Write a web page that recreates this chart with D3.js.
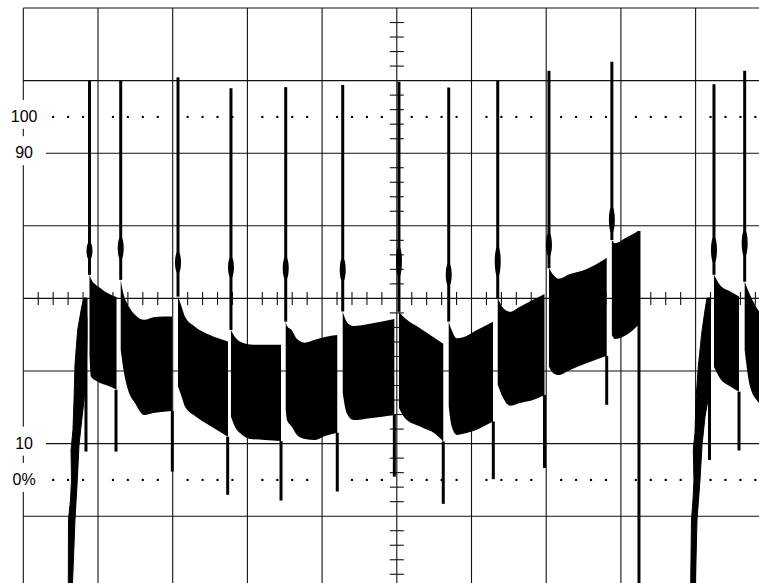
<!DOCTYPE html>
<html>
<head>
<meta charset="utf-8">
<script src="https://cdn.jsdelivr.net/npm/d3@7"></script>
<style>
body { margin: 0; background: #fff; }
svg { display: block; }
</style>
</head>
<body>
<div id="chart-area"></div>
<script>
var width = 759;
var height = 583;

// horizontal: screen divisions, vertical: percent of full level
var gridT = d3.range(0, 11);
var gridLevel = [130, 110, 90, 70, 50, 30, 10, -10, -30];
var refLevel = [100, 0];
var labelLevel = [100, 90, 10, 0];
var labelText = ["100", "90", "10", "0%"];

// rising edges at the start of each burst
var riseT = [
    [0.602, 0.605, 0.632, 0.645, 0.639, 0.665, 0.679, 0.692, 0.728, 0.782, 0.813, 0.853, 0.853, 0.839, 0.813, 0.768, 0.746, 0.723, 0.692, 0.652],
    [8.932, 8.945, 8.965, 8.978, 8.969, 8.992, 9.005, 9.036, 9.082, 9.126, 9.153, 9.200, 9.200, 9.179, 9.165, 9.126, 9.086, 9.059, 9.019, 8.992]
];
var riseLevel = [
    [-32, -11.0, -5.5, 0, 8.3, 13.8, 22.0, 31.7, 41.3, 47.7, 50.1, 50.1, 38.6, 27.5, 22.0, 13.8, 9.6, 0, -11.0, -32],
    [-32, -11.0, -5.5, 0, 8.3, 12.9, 22.0, 31.2, 40.4, 46.8, 50.1, 50.1, 38.6, 27.5, 22.0, 17.4, 9.6, 0, -11.0, -32]
];

// envelope of the ripple between switching spikes
var bandT = [
    [0.886, 0.906, 0.973, 1.027, 1.094, 1.174, 1.248],
    [1.304, 1.348, 1.402, 1.495, 1.616, 1.763, 1.991],
    [2.071, 2.124, 2.164, 2.298, 2.499, 2.740],
    [2.780, 2.834, 2.901, 3.035, 3.235, 3.450],
    [3.513, 3.530, 3.593, 3.664, 3.771, 3.905, 4.039, 4.203],
    [4.276, 4.329, 4.418, 4.641, 4.967],
    [5.029, 5.110, 5.311, 5.512, 5.622],
    [5.695, 5.735, 5.802, 5.890, 6.070, 6.158, 6.288],
    [6.351, 6.422, 6.515, 6.649, 6.823, 6.977],
    [7.037, 7.095, 7.162, 7.319, 7.520, 7.810],
    [7.879, 7.921, 8.055, 8.233],
    [9.246, 9.326, 9.465, 9.581],
    [9.657, 9.728, 9.849, 10.06]
];
var bandTop = [
    [56.5, 55.4, 53.7, 52.9, 51.8, 51.0, 50.4],
    [55.1, 50.7, 48.2, 45.5, 44.1, 44.9, 45.0],
    [50.5, 47.4, 45.0, 42.2, 39.9, 38.1],
    [41.3, 39.4, 38.1, 37.3, 37.2, 37.2],
    [43.6, 42.4, 41.3, 38.8, 37.8, 38.6, 39.4, 39.9],
    [46.4, 43.6, 42.4, 43.0, 44.3],
    [46.3, 44.5, 41.8, 39.0, 37.5],
    [43.6, 41.3, 39.0, 39.3, 41.3, 42.2, 43.6],
    [50.1, 47.4, 46.3, 47.7, 49.6, 51.2],
    [58.3, 56.5, 55.4, 56.7, 57.9, 61.1],
    [66.1, 65.2, 66.6, 68.6],
    [56.5, 53.7, 51.9, 50.5],
    [54.6, 51.0, 46.4, 41.3]
];
var bandBottom = [
    [34.4, 28.4, 27.3, 26.7, 26.2, 25.6, 24.8],
    [35.8, 29.5, 24.8, 21.2, 17.9, 18.5, 19.0],
    [25.7, 22.6, 20.2, 17.6, 14.9, 11.9],
    [17.4, 14.6, 12.9, 11.3, 11.0, 10.7],
    [19.3, 16.5, 14.7, 12.4, 11.3, 11.0, 12.1, 13.0],
    [24.0, 18.4, 16.5, 17.0, 17.9],
    [19.8, 17.0, 14.7, 12.7, 10.6],
    [20.2, 14.7, 12.4, 12.7, 13.8, 14.7, 16.1],
    [26.2, 22.6, 20.4, 21.2, 22.0, 23.4],
    [31.2, 29.4, 28.9, 30.3, 32.0, 34.2],
    [39.9, 38.8, 39.7, 42.7],
    [31.2, 28.0, 25.7, 24.3],
    [35.8, 25.7, 21.1, 16.5]
];

// upward spikes (one per band) and their blobs
var spikeT = [0.886, 1.304, 2.071, 2.780, 3.513, 4.276, 5.029, 5.695, 6.351, 7.037, 7.879, 9.246, 9.657];
var spikeTop = [109.9, 109.9, 110.9, 107.9, 108.2, 108.8, 109.7, 108.1, 109.9, 112.7, 115.2, 109.0, 112.7];
var blobHigh = [65.6, 67.0, 62.9, 61.5, 61.5, 61.2, 64.3, 59.7, 64.3, 68.0, 75.3, 67.0, 68.9];
var blobLow = [60.6, 60.6, 56.9, 55.6, 55.1, 54.6, 56.0, 53.3, 56.0, 61.5, 68.0, 59.7, 61.5];

// downward spikes at the end of each band
var dropT = [0.839, 1.241, 1.995, 2.736, 3.450, 4.203, 4.967, 5.622, 6.292, 6.977, 7.810, 8.242, 9.186, 9.581];
var dropFrom = [45, 24.8, 19.0, 11.9, 10.7, 13.0, 17.9, 10.6, 16.1, 23.4, 34.2, 68.6, 40, 24.3];
var dropBottom = [7.8, 7.8, 2.3, -4.1, -5.7, -3.2, 0.9, -6.6, 0.2, 3.3, 20.7, -35, 5.5, 8.1];

var svg = d3.select("#chart-area")
    .append("svg")
    .attr("width", width)
    .attr("height", height)
    .style("background-color", "#fff");

var x = d3.scaleLinear().domain([0, 10]).range([23.3, 770.3]);
var y = d3.scaleLinear().domain([0, 100]).range([479.9, 116.9]);

var minorT = d3.range(1, 51).filter(k => k % 5 != 0).map(k => k / 5);
var minorLevel = d3.range(0, 41).filter(k => k % 5 != 0).map(k => 130 - k * 4);

var grid = svg.append("g")
    .attr("stroke", "#111")
    .attr("stroke-width", 1.1);

grid.selectAll(".vgrid")
    .data(gridT)
    .enter()
    .append("line")
    .attr("x1", d => x(d))
    .attr("x2", d => x(d))
    .attr("y1", y(130))
    .attr("y2", y(-30));

grid.selectAll(".hgrid")
    .data(gridLevel)
    .enter()
    .append("line")
    .attr("x1", x(0))
    .attr("x2", x(10))
    .attr("y1", d => y(d))
    .attr("y2", d => y(d));

// ticks on the centre cross
grid.selectAll(".htick")
    .data(minorT)
    .enter()
    .append("line")
    .attr("x1", d => x(d))
    .attr("x2", d => x(d))
    .attr("y1", y(50) - 6.5)
    .attr("y2", y(50) + 6.5);

grid.selectAll(".vtick")
    .data(minorLevel)
    .enter()
    .append("line")
    .attr("x1", x(5) - 7)
    .attr("x2", x(5) + 7)
    .attr("y1", d => y(d))
    .attr("y2", d => y(d));

// dotted 0% and 100% lines
refLevel.forEach(lv => {
    svg.append("g")
        .selectAll("circle")
        .data(minorT)
        .enter()
        .append("circle")
        .attr("cx", d => x(d))
        .attr("cy", y(lv))
        .attr("r", 1.2)
        .attr("fill", "#000");
});

// labels sit on the left border
var labels = svg.append("g");
labels.selectAll("rect")
    .data(labelLevel)
    .enter()
    .append("rect")
    .attr("x", 3)
    .attr("y", d => y(d) - 17)
    .attr("width", 43)
    .attr("height", 29)
    .attr("fill", "#fff");

labels.selectAll("text")
    .data(labelLevel)
    .enter()
    .append("text")
    .attr("x", x(0) + 0.8)
    .attr("y", d => y(d) + 5.2)
    .attr("text-anchor", "middle")
    .attr("font-family", "Liberation Sans, Arial, Helvetica, sans-serif")
    .attr("font-size", "16px")
    .attr("fill", "#000")
    .text((d, i) => labelText[i]);

// trace
var trace = svg.append("g");

var area = d3.area()
    .x(d => x(d[0]))
    .y0(d => y(d[2]))
    .y1(d => y(d[1]))
    .curve(d3.curveMonotoneX);

bandT.forEach((ts, i) => {
    var pts = ts.map((t, j) => [t, bandTop[i][j], bandBottom[i][j]]);
    trace.append("path")
        .attr("d", area(pts))
        .attr("fill", "#000");
});

var edge = d3.line()
    .x(d => x(d[0]))
    .y(d => y(d[1]))
    .curve(d3.curveLinearClosed);

riseT.forEach((ts, i) => {
    trace.append("path")
        .attr("d", edge(ts.map((t, j) => [t, riseLevel[i][j]])))
        .attr("fill", "#000")
        .attr("stroke", "#000")
        .attr("stroke-width", 1);
});

trace.selectAll(".spike")
    .data(spikeT)
    .enter()
    .append("line")
    .attr("x1", d => x(d))
    .attr("x2", d => x(d))
    .attr("y1", (d, i) => y(spikeTop[i]))
    .attr("y2", (d, i) => y(bandTop[i][0]))
    .attr("stroke", "#000")
    .attr("stroke-width", 3);

trace.selectAll(".blob")
    .data(spikeT)
    .enter()
    .append("ellipse")
    .attr("cx", d => x(d))
    .attr("cy", (d, i) => (y(blobHigh[i]) + y(blobLow[i])) / 2)
    .attr("rx", 3)
    .attr("ry", (d, i) => (y(blobLow[i]) - y(blobHigh[i])) / 2)
    .attr("fill", "#000");

trace.selectAll(".drop")
    .data(dropT)
    .enter()
    .append("line")
    .attr("x1", d => x(d))
    .attr("x2", d => x(d))
    .attr("y1", (d, i) => y(dropFrom[i]))
    .attr("y2", (d, i) => y(dropBottom[i]))
    .attr("stroke", "#000")
    .attr("stroke-width", 3);
</script>
</body>
</html>
